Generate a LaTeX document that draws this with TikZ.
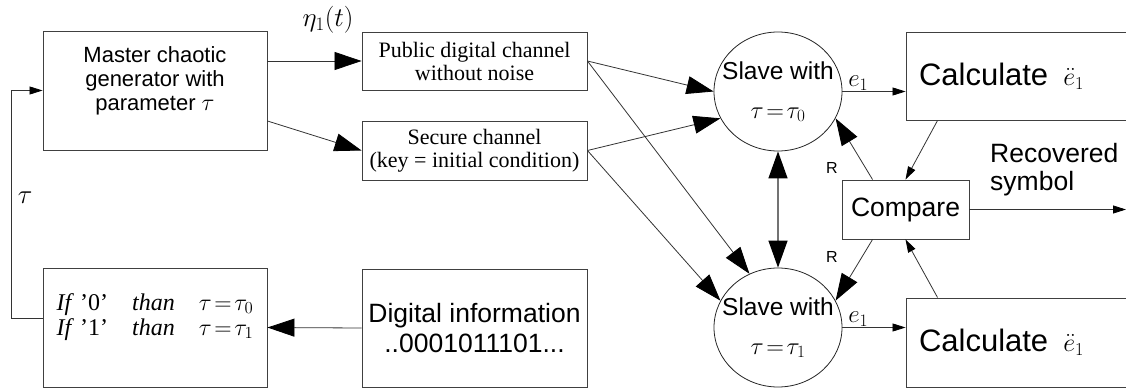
\RequirePackage{fix-cm}
\documentclass[tikz,border=0pt]{standalone}
\usepackage{fontspec}
\setmainfont{Liberation Serif}
\setsansfont{Liberation Sans}
\usetikzlibrary{arrows.meta, positioning, shapes.geometric, calc}

\begin{document}
\begin{tikzpicture}[
  x=1pt, y=-1pt,
  block/.style={rectangle, draw=black!75, line width=0.9pt, inner sep=0pt, align=center},
  slave/.style={ellipse, draw=black!85, line width=0.8pt, minimum width=128pt, minimum height=119pt,
    inner sep=0pt, align=center, font=\fontsize{24.5}{29}\selectfont\sffamily},
  big/.style={-{Triangle[length=27pt,width=18pt,color=black]}, line width=0.8pt, draw=black!80},
  bigboth/.style={{Triangle[length=27pt,width=19pt,color=black]}-{Triangle[length=27pt,width=19pt,color=black]},
    line width=1.3pt, draw=black!55},
  small/.style={-{Triangle[length=13pt,width=8pt,color=black]}, line width=0.8pt, draw=black!80},
  lbl/.style={font=\fontsize{27}{30}\selectfont, inner sep=1pt},
  rlbl/.style={font=\fontsize{16}{18}\selectfont\sffamily, inner sep=0pt}
]
\useasboundingbox (0,0) rectangle (1126,390);

% left column
\node[block, minimum width=224pt, minimum height=119pt, font=\fontsize{22}{24}\selectfont\sffamily] (master) at (155,90.5)
  {\raisebox{9pt}[\height][\depth]{\begin{tabular}{@{}c@{}}Master chaotic\\generator with\\
   parameter {\fontsize{24}{24}\selectfont$\tau$}\end{tabular}}};
\node[block, minimum width=224pt, minimum height=119pt, font=\fontsize{24}{25}\selectfont] (cond) at (155,327.5)
  {\raisebox{10pt}[\height][\depth]{\begin{tabular}{@{}l@{}}\textit{If} '0'\quad \textit{than}\quad $\tau\!=\!\tau_0$\\
   \textit{If} '1'\quad \textit{than}\quad $\tau\!=\!\tau_1$\end{tabular}}};

% channels
\node[block, minimum width=225pt, minimum height=58pt, font=\fontsize{22}{23}\selectfont] (pub) at (474.5,61)
  {Public digital channel\\without noise};
\node[block, minimum width=225pt, minimum height=59pt, font=\fontsize{22}{23}\selectfont] (sec) at (474.5,150.5)
  {Secure channel\\(key = initial condition)};
\node[block, minimum width=225pt, minimum height=118pt, font=\fontsize{26.5}{30}\selectfont\sffamily] (info) at (474.5,328)
  {Digital information\\..0001011101...};

% slaves
\node[slave] (s0) at (778,91.5) {\makebox[0pt]{Slave with}\\[10pt]\makebox[0pt]{$\tau\!=\!\tau_0$}};
\node[slave] (s1) at (778,327.5) {\makebox[0pt]{Slave with}\\[10pt]\makebox[0pt]{$\tau\!=\!\tau_1$}};

% right column
\node[block, text width=208pt, inner xsep=13pt, minimum height=88pt, align=left,
  font=\fontsize{31}{34}\selectfont\sffamily] (c0) at (1023,76)
  {Calculate\hspace{15pt}{\fontsize{26}{28}\selectfont$\ddot{e}_1$}};
\node[block, text width=208pt, inner xsep=13pt, minimum height=89pt, align=left,
  font=\fontsize{31}{34}\selectfont\sffamily] (c1) at (1023,342.5)
  {Calculate\hspace{15pt}{\fontsize{26}{28}\selectfont$\ddot{e}_1$}};
\node[block, minimum width=127pt, minimum height=59pt, font=\fontsize{26.5}{28}\selectfont\sffamily] (cmp) at (905.5,209.5)
  {Compare};
\node[font=\fontsize{26.5}{28}\selectfont\sffamily, align=left, anchor=west, inner sep=0pt] (rec) at (990,170)
  {Recovered\\symbol};
\coordinate (out) at (1126,209.5);

% labels
\node[lbl] (eta) at (328,20) {$\eta_1(t)$};
\node[lbl] (tfb) at (25,198) {$\tau$};
\node[rlbl] (r0) at (832,168) {R};
\node[rlbl] (r1) at (832,257) {R};

% connectors
\draw[big] (master.east |- pub.west) -- (pub.west);
\draw[big] ([yshift=-30.5pt]master.east) -- (sec.west);
\draw[big] (pub.east) -- (s0.180);
\draw[big] (sec.east) -- (s0.205);
\draw[big] (pub.east) -- (s1.118);
\draw[big] (sec.east) -- (s1.155);
\draw[bigboth] (s0) -- (s1);
\draw[small] (s0.east) -- node[lbl, above, pos=0.25, font=\fontsize{25}{27}\selectfont] (e0) {$e_1$} (s0.east -| c0.west);
\draw[small] (s1.east) -- node[lbl, above, pos=0.25, font=\fontsize{25}{27}\selectfont] (e1) {$e_1$} (s1.east -| c1.west);
\draw[small] ([xshift=32pt]c0.south west) -- (cmp.north);
\draw[small] ([xshift=32pt]c1.north west) -- (cmp.south);
\draw[big] ([xshift=31pt]cmp.north west) -- (s0.335);
\draw[big] ([xshift=31pt]cmp.south west) -- (s1.25);
\draw[small] (cmp.east) -- (out);
\draw[big] (info.west) -- (cond.east);
\draw[small] ([yshift=9.5pt]cond.west) -- ++(-31,0) |- (master.west);
\end{tikzpicture}
\end{document}
